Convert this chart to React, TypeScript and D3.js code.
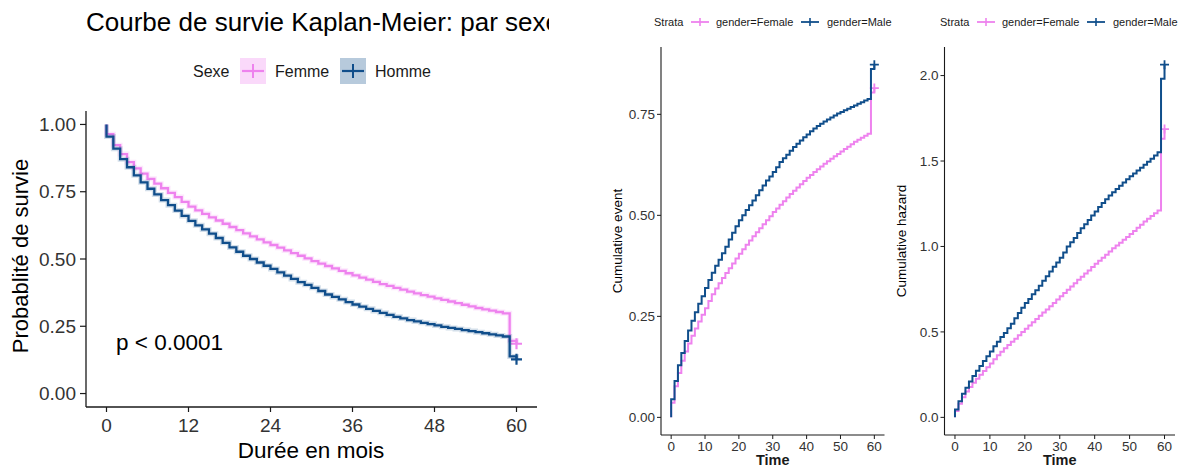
import React from "react";
import * as d3 from "d3";

// time grid (months)
const months = [
  0, 1, 2, 3, 4, 5, 6, 7, 8, 9, 10, 11, 12, 13, 14, 15, 16, 17, 18, 19, 20,
  21, 22, 23, 24, 25, 26, 27, 28, 29, 30, 31, 32, 33, 34, 35, 36, 37, 38, 39, 40,
  41, 42, 43, 44, 45, 46, 47, 48, 49, 50, 51, 52, 53, 54, 55, 56, 57, 58, 59, 60,
];

// Kaplan-Meier survival
const survFemme = [
  0.964, 0.923, 0.890, 0.860, 0.837, 0.817, 0.798, 0.780, 0.763, 0.746, 0.730,
  0.712, 0.695, 0.681, 0.668, 0.655, 0.643, 0.631, 0.619, 0.607, 0.595, 0.584,
  0.573, 0.562, 0.552, 0.542, 0.532, 0.522, 0.512, 0.502, 0.492, 0.483, 0.474,
  0.465, 0.456, 0.447, 0.439, 0.431, 0.423, 0.415, 0.407, 0.400, 0.393, 0.386,
  0.379, 0.372, 0.366, 0.360, 0.354, 0.348, 0.342, 0.336, 0.330, 0.324, 0.318,
  0.313, 0.308, 0.303, 0.298, 0.196, 0.185,
];
const survHomme = [
  0.955, 0.910, 0.871, 0.841, 0.811, 0.785, 0.761, 0.740, 0.719, 0.700, 0.680,
  0.660, 0.642, 0.625, 0.610, 0.594, 0.578, 0.560, 0.543, 0.527, 0.512, 0.500,
  0.487, 0.475, 0.463, 0.450, 0.438, 0.426, 0.414, 0.404, 0.393, 0.381, 0.368,
  0.359, 0.350, 0.340, 0.331, 0.323, 0.315, 0.307, 0.300, 0.292, 0.285, 0.279,
  0.273, 0.268, 0.263, 0.258, 0.253, 0.248, 0.244, 0.240, 0.236, 0.232, 0.228,
  0.224, 0.220, 0.216, 0.212, 0.138, 0.127,
];

// cumulative event (middle panel)
const eventFemale = [
  0.036, 0.077, 0.110, 0.140, 0.163, 0.183, 0.202, 0.220, 0.237, 0.254, 0.270,
  0.288, 0.305, 0.319, 0.332, 0.345, 0.357, 0.369, 0.381, 0.393, 0.405, 0.416,
  0.427, 0.438, 0.448, 0.458, 0.468, 0.478, 0.488, 0.498, 0.508, 0.517, 0.526,
  0.535, 0.544, 0.553, 0.561, 0.569, 0.577, 0.585, 0.593, 0.600, 0.607, 0.614,
  0.621, 0.628, 0.634, 0.640, 0.646, 0.652, 0.658, 0.664, 0.670, 0.676, 0.682,
  0.687, 0.692, 0.697, 0.702, 0.804, 0.815,
];
const eventMale = [
  0.045, 0.090, 0.129, 0.159, 0.189, 0.215, 0.239, 0.260, 0.281, 0.300, 0.320,
  0.340, 0.358, 0.375, 0.390, 0.406, 0.422, 0.440, 0.457, 0.473, 0.488, 0.500,
  0.513, 0.525, 0.537, 0.550, 0.562, 0.574, 0.586, 0.596, 0.607, 0.619, 0.632,
  0.641, 0.650, 0.660, 0.669, 0.677, 0.685, 0.693, 0.700, 0.708, 0.715, 0.721,
  0.727, 0.732, 0.737, 0.742, 0.747, 0.752, 0.756, 0.760, 0.764, 0.768, 0.772,
  0.776, 0.780, 0.784, 0.788, 0.862, 0.873,
];

// cumulative hazard (right panel)
const hazardFemale = [
  0.037, 0.080, 0.117, 0.151, 0.178, 0.202, 0.226, 0.249, 0.271, 0.293, 0.315,
  0.340, 0.364, 0.384, 0.404, 0.423, 0.442, 0.460, 0.480, 0.499, 0.519, 0.538,
  0.557, 0.576, 0.594, 0.613, 0.631, 0.650, 0.669, 0.689, 0.709, 0.728, 0.747,
  0.766, 0.785, 0.805, 0.823, 0.842, 0.860, 0.880, 0.899, 0.916, 0.934, 0.952,
  0.970, 0.989, 1.005, 1.022, 1.039, 1.056, 1.073, 1.091, 1.109, 1.127, 1.146,
  1.162, 1.178, 1.194, 1.211, 1.630, 1.687,
];
const hazardMale = [
  0.046, 0.094, 0.138, 0.173, 0.210, 0.242, 0.273, 0.301, 0.330, 0.357, 0.386,
  0.416, 0.443, 0.470, 0.494, 0.521, 0.548, 0.580, 0.611, 0.641, 0.669, 0.693,
  0.720, 0.744, 0.770, 0.799, 0.826, 0.853, 0.882, 0.906, 0.934, 0.965, 1.000,
  1.024, 1.050, 1.079, 1.106, 1.130, 1.155, 1.181, 1.204, 1.231, 1.255, 1.277,
  1.298, 1.317, 1.336, 1.355, 1.374, 1.394, 1.411, 1.427, 1.444, 1.461, 1.478,
  1.496, 1.514, 1.532, 1.551, 1.981, 2.064,
];

const kmXTicks = [0, 12, 24, 36, 48, 60];
const kmYTicks = [0, 0.25, 0.5, 0.75, 1];
const timeTicks = [0, 10, 20, 30, 40, 50, 60];
const eventTicks = [0, 0.25, 0.5, 0.75];
const hazardTicks = [0, 0.5, 1, 1.5, 2];
const sexLabels = ["Femme", "Homme"];
const strataLabels = ["gender=Female", "gender=Male"];

const PINK = "#EE82EE";
const BLUE = "#104E8B";
const FONT = "'Liberation Sans', Arial, Helvetica, sans-serif";
const AXIS = "#1a1a1a";
const TICK_TXT = "#333333";

// ggplot-like 5% expansion
const expand = ([a, b]: number[]) => [a - (b - a) * 0.05, b + (b - a) * 0.05];

function stepPath(vals: number[], start: number, x: any, y: any) {
  const pts: [number, number][] = [[months[0], start], ...months.map((t, i) => [t, vals[i]] as [number, number])];
  return d3
    .line<[number, number]>()
    .x((d) => x(d[0]))
    .y((d) => y(d[1]))
    .curve(d3.curveStepAfter)(pts) as string;
}

const plus = (cx: number, cy: number, r: number) => `M${cx - r},${cy}H${cx + r}M${cx},${cy - r}V${cy + r}`;

function KMPanel() {
  const x = d3.scaleLinear().domain(expand([0, 60])).range([86, 537]);
  const y = d3.scaleLinear().domain(expand([0, 1])).range([407, 111]);
  const series = [
    { vals: survFemme, color: PINK },
    { vals: survHomme, color: BLUE },
  ];
  const last = months.length - 1;
  return (
    <g clipPath="url(#clipLeft)">
      <text x={86} y={31} fontSize={26} fill="#000">
        Courbe de survie Kaplan-Meier: par sexe
      </text>
      {/* legend */}
      <text x={193} y={77} fontSize={16} fill="#1a1a1a">Sexe</text>
      {sexLabels.map((lab, i) => {
        const bx = 240 + i * 100;
        const c = series[i].color;
        return (
          <g key={lab}>
            <rect x={bx} y={58} width={26} height={26} fill={c} fillOpacity={0.3} />
            <path d={`M${bx + 2},71H${bx + 24}`} stroke={c} strokeWidth={2.2} />
            <path d={`M${bx + 13},64V78`} stroke={c} strokeWidth={2} />
            <text x={bx + 35} y={77} fontSize={16} fill="#1a1a1a">{lab}</text>
          </g>
        );
      })}
      {/* curves */}
      {series.map((s, i) => (
        <g key={i}>
          <path d={stepPath(s.vals, 1, x, y)} fill="none" stroke={s.color} strokeOpacity={0.18} strokeWidth={5} />
          <path d={stepPath(s.vals, 1, x, y)} fill="none" stroke={s.color} strokeWidth={2.3} />
          <path d={plus(x(months[last]), y(s.vals[last]), 5.5)} stroke={s.color} strokeWidth={2.2} />
        </g>
      ))}
      {/* axes */}
      <line x1={86} x2={537} y1={407} y2={407} stroke={AXIS} strokeWidth={1.3} />
      <line x1={86} x2={86} y1={111} y2={407} stroke={AXIS} strokeWidth={1.3} />
      {kmXTicks.map((t) => (
        <g key={t}>
          <line x1={x(t)} x2={x(t)} y1={407} y2={412} stroke={AXIS} strokeWidth={1.2} />
          <text x={x(t)} y={432} textAnchor="middle" fontSize={19} fill={TICK_TXT}>{t}</text>
        </g>
      ))}
      {kmYTicks.map((v) => (
        <g key={v}>
          <line x1={80} x2={86} y1={y(v)} y2={y(v)} stroke={AXIS} strokeWidth={1.2} />
          <text x={76} y={y(v)} dy="0.35em" textAnchor="end" fontSize={19} fill={TICK_TXT}>{v.toFixed(2)}</text>
        </g>
      ))}
      <text x={311} y={458} textAnchor="middle" fontSize={22.5} fill="#000">Durée en mois</text>
      <text transform="translate(28,256) rotate(-90)" textAnchor="middle" fontSize={22} fill="#000">
        Probablité de survie
      </text>
      <text x={116} y={350} fontSize={22.5} fill="#000">p &lt; 0.0001</text>
    </g>
  );
}

type PanelProps = {
  left: number;
  right: number;
  female: number[];
  male: number[];
  yTicks: number[];
  digits: number;
  yTitle: string;
  legendX: number;
};

function CumPanel({ left, right, female, male, yTicks, digits, yTitle, legendX }: PanelProps) {
  const top = 47;
  const bottom = 435;
  const x = d3.scaleLinear().domain(expand([0, 60])).range([left, right]);
  const ymax = d3.max([...female, ...male]) as number;
  const y = d3.scaleLinear().domain(expand([0, ymax])).range([bottom, top]);
  const series = [
    { vals: female, color: PINK },
    { vals: male, color: BLUE },
  ];
  const last = months.length - 1;
  const keyX = [legendX + 37, legendX + 147];
  const labX = [legendX + 62, legendX + 173];
  return (
    <g>
      <text x={legendX} y={26} fontSize={11} fill="#1a1a1a">Strata</text>
      {strataLabels.map((lab, i) => (
        <g key={lab}>
          <path d={`M${keyX[i]},22H${keyX[i] + 18}`} stroke={series[i].color} strokeWidth={1.8} />
          <path d={`M${keyX[i] + 9},18V26`} stroke={series[i].color} strokeWidth={1.6} />
          <text x={labX[i]} y={26} fontSize={11} fill="#1a1a1a">{lab}</text>
        </g>
      ))}
      {series.map((s, i) => (
        <g key={i}>
          <path d={stepPath(s.vals, 0, x, y)} fill="none" stroke={s.color} strokeWidth={2} />
          <path d={plus(x(months[last]), y(s.vals[last]), 4.5)} stroke={s.color} strokeWidth={1.8} />
        </g>
      ))}
      <line x1={left} x2={right} y1={bottom} y2={bottom} stroke={AXIS} strokeWidth={1.1} />
      <line x1={left} x2={left} y1={top} y2={bottom} stroke={AXIS} strokeWidth={1.1} />
      {timeTicks.map((t) => (
        <g key={t}>
          <line x1={x(t)} x2={x(t)} y1={bottom} y2={bottom + 4} stroke={AXIS} strokeWidth={1} />
          <text x={x(t)} y={451} textAnchor="middle" fontSize={13.5} fill={TICK_TXT}>{t}</text>
        </g>
      ))}
      {yTicks.map((v) => (
        <g key={v}>
          <line x1={left - 4} x2={left} y1={y(v)} y2={y(v)} stroke={AXIS} strokeWidth={1} />
          <text x={left - 6} y={y(v)} dy="0.35em" textAnchor="end" fontSize={13.5} fill={TICK_TXT}>
            {v.toFixed(digits)}
          </text>
        </g>
      ))}
      <text x={(left + right) / 2} y={465} textAnchor="middle" fontSize={14.5} fontWeight="bold" fill="#1a1a1a">
        Time
      </text>
      <text
        transform={`translate(${left - 39},241) rotate(-90)`}
        textAnchor="middle"
        fontSize={13.5}
        fill="#000"
      >
        {yTitle}
      </text>
    </g>
  );
}

export default function App() {
  return (
    <div>
      <style>{`body{margin:0;background:#fff}`}</style>
      <svg width={1183} height={468} style={{ display: "block", fontFamily: FONT }}>
        <defs>
          <clipPath id="clipLeft">
            <rect x={0} y={0} width={549} height={468} />
          </clipPath>
        </defs>
        <rect width={1183} height={468} fill="#fff" />
        <KMPanel />
        <CumPanel
          left={661}
          right={884.5}
          female={eventFemale}
          male={eventMale}
          yTicks={eventTicks}
          digits={2}
          yTitle="Cumulative event"
          legendX={654}
        />
        <CumPanel
          left={944.5}
          right={1175}
          female={hazardFemale}
          male={hazardMale}
          yTicks={hazardTicks}
          digits={1}
          yTitle="Cumulative hazard"
          legendX={940}
        />
      </svg>
    </div>
  );
}
